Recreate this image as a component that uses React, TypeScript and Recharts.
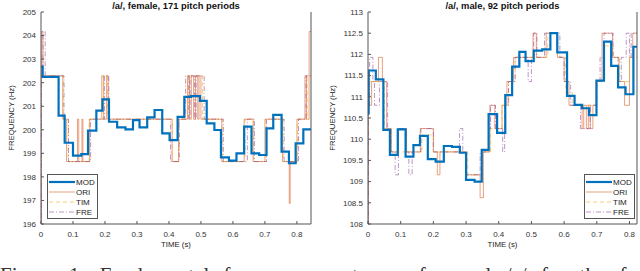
import { LineChart, Line, XAxis, YAxis, Legend } from 'recharts'

const FONT = '"Liberation Sans", Arial, Helvetica, sans-serif'
const AXIS_COLOR = '#555'

const TIME_TICKS = [0, 0.1, 0.2, 0.3, 0.4, 0.5, 0.6, 0.7, 0.8]
const FEMALE_TICKS = [196, 197, 198, 199, 200, 201, 202, 203, 204, 205]
const MALE_TICKS = [108, 108.5, 109, 109.5, 110, 110.5, 111, 111.5, 112, 112.5, 113]
const FEMALE_END = 0.844
const MALE_END = 0.823

// step contours: [start time (s), frequency (Hz)]
type Step = [number, number]

const FEMALE_MOD: Step[] = [
  [0, 202.68], [0.005, 202.25], [0.055, 200.6], [0.074, 199.45], [0.1, 198.9], [0.126, 198.97],
  [0.147, 199.96], [0.173, 200.81], [0.192, 201.29], [0.2125, 200.34], [0.238, 200.1], [0.264, 200.02],
  [0.2875, 200.41], [0.308, 200.1], [0.332, 200.53], [0.355, 200.84], [0.379, 199.85], [0.402, 199.56],
  [0.427, 200.55], [0.448, 201.4], [0.469, 201.43], [0.497, 201.23], [0.518, 200.27], [0.542, 199.99],
  [0.5625, 198.83], [0.5875, 198.69], [0.611, 199.0], [0.635, 200.13], [0.658, 199.0], [0.682, 198.93],
  [0.705, 200.06], [0.726, 200.63], [0.752, 199.07], [0.775, 198.58], [0.796, 199.42], [0.82, 200.02],
]
const FEMALE_ORI: Step[] = [
  [0, 195], [0.001, 204.17], [0.006, 202.29], [0.068, 200.45], [0.08, 198.65], [0.114, 200.45],
  [0.118, 198.65], [0.128, 200.45], [0.131, 198.65], [0.152, 200.45], [0.19, 202.29], [0.196, 200.45],
  [0.205, 202.29], [0.21, 200.45], [0.41, 198.65], [0.43, 200.45], [0.458, 202.29], [0.464, 200.45],
  [0.47, 202.29], [0.477, 200.45], [0.483, 202.29], [0.49, 200.45], [0.494, 202.29], [0.5, 200.45],
  [0.565, 198.65], [0.635, 200.45], [0.663, 198.65], [0.7, 200.45], [0.755, 198.65], [0.776, 196.88],
  [0.779, 198.65], [0.8, 200.45], [0.825, 202.29], [0.83, 200.45], [0.838, 204.17],
]
const FEMALE_TIM: Step[] = [
  [0, 202.29], [0.07, 200.45], [0.085, 198.65], [0.15, 200.45], [0.195, 202.29], [0.208, 200.45],
  [0.41, 198.65], [0.432, 200.45], [0.46, 202.29], [0.505, 200.45], [0.567, 198.65], [0.638, 200.45],
  [0.665, 198.65], [0.703, 200.45], [0.757, 198.65], [0.802, 200.45], [0.832, 202.29],
]
const FEMALE_FRE: Step[] = [
  [0, 195], [0.001, 202.29], [0.006, 204.17], [0.013, 202.29], [0.072, 200.45], [0.086, 198.65],
  [0.155, 200.45], [0.198, 202.29], [0.212, 200.45], [0.405, 198.65], [0.432, 200.45], [0.452, 202.29],
  [0.462, 200.45], [0.466, 202.29], [0.48, 200.45], [0.485, 202.29], [0.51, 200.45], [0.57, 198.65],
  [0.645, 200.45], [0.667, 198.65], [0.705, 200.45], [0.76, 198.65], [0.805, 200.45], [0.828, 202.29],
]

const MALE_MOD: Step[] = [
  [0, 110.61], [0.002, 111.62], [0.024, 111.41], [0.047, 110.22], [0.067, 109.63], [0.091, 110.23],
  [0.115, 109.59], [0.139, 109.86], [0.159, 110.08], [0.183, 109.53], [0.207, 109.47], [0.232, 109.84],
  [0.257, 109.82], [0.281, 109.68], [0.3, 109.04], [0.326, 109.0], [0.348, 109.75], [0.369, 110.59],
  [0.395, 110.15], [0.42, 111.04], [0.441, 111.71], [0.463, 112.06], [0.482, 111.84], [0.507, 112.09],
  [0.533, 112.12], [0.558, 112.5], [0.579, 112.05], [0.609, 111.02], [0.632, 110.81], [0.655, 110.73],
  [0.676, 110.57], [0.699, 111.38], [0.722, 112.3], [0.744, 111.73], [0.765, 111.22], [0.788, 111.06],
  [0.812, 112.18],
]
const MALE_ORI: Step[] = [
  [0, 107.5], [0.001, 110.8], [0.011, 111.36], [0.032, 111.93], [0.044, 111.36], [0.057, 110.25],
  [0.072, 109.7], [0.093, 110.25], [0.118, 109.7], [0.16, 110.25], [0.2, 109.7], [0.212, 109.16],
  [0.22, 109.7], [0.302, 109.16], [0.343, 108.62], [0.353, 109.7], [0.373, 110.8], [0.388, 110.25],
  [0.41, 110.8], [0.425, 111.36], [0.445, 111.93], [0.505, 112.5], [0.515, 111.93], [0.545, 112.5],
  [0.58, 111.93], [0.6, 111.36], [0.615, 110.8], [0.655, 110.25], [0.66, 110.8], [0.668, 110.25],
  [0.674, 110.8], [0.68, 110.25], [0.688, 110.8], [0.698, 111.36], [0.716, 112.5], [0.748, 111.93],
  [0.768, 111.36], [0.785, 110.8], [0.8, 111.93], [0.81, 112.5],
]
const MALE_TIM: Step[] = [
  [0, 111.36], [0.05, 110.25], [0.07, 109.7], [0.165, 110.1], [0.2, 109.7], [0.305, 109.16],
  [0.35, 109.7], [0.375, 110.25], [0.41, 110.8], [0.43, 111.36], [0.45, 111.93], [0.55, 112.5],
  [0.58, 111.93], [0.605, 111.1], [0.625, 110.8], [0.7, 111.36], [0.72, 112.2], [0.75, 111.93],
  [0.77, 111.36], [0.8, 111.93],
]
const MALE_FRE: Step[] = [
  [0, 107.5], [0.001, 110.8], [0.005, 111.93], [0.015, 111.36], [0.02, 110.8], [0.035, 111.36],
  [0.06, 110.25], [0.07, 109.7], [0.083, 109.16], [0.093, 110.25], [0.117, 109.7], [0.125, 109.16],
  [0.135, 109.7], [0.162, 110.25], [0.2, 109.7], [0.28, 110.25], [0.29, 109.7], [0.3, 109.16],
  [0.343, 109.7], [0.37, 110.25], [0.375, 110.8], [0.39, 110.25], [0.412, 109.7], [0.418, 110.8],
  [0.43, 111.36], [0.45, 111.93], [0.49, 111.36], [0.5, 111.93], [0.507, 112.5], [0.517, 111.93],
  [0.54, 112.5], [0.587, 111.93], [0.6, 111.36], [0.62, 110.8], [0.65, 110.25], [0.68, 110.8],
  [0.7, 111.36], [0.71, 111.93], [0.722, 112.5], [0.75, 111.93], [0.765, 111.36], [0.775, 111.93],
  [0.79, 112.5], [0.8, 111.93], [0.805, 112.5],
]

interface SeriesStyle {
  name: string
  color: string
  width: number
  dash?: string
  opacity: number
}

const STYLES: Record<string, SeriesStyle> = {
  MOD: { name: 'MOD', color: '#0072BD', width: 2.2, opacity: 1 },
  ORI: { name: 'ORI', color: '#D95319', width: 1, opacity: 0.55 },
  TIM: { name: 'TIM', color: '#EDB120', width: 1, dash: '4 3', opacity: 0.6 },
  FRE: { name: 'FRE', color: '#7E2F8E', width: 1, dash: '5 2 1 2', opacity: 0.5 },
}
const LEGEND_ORDER = ['MOD', 'ORI', 'TIM', 'FRE']
const DRAW_ORDER = ['ORI', 'TIM', 'FRE', 'MOD']

const toPoints = (steps: Step[], end: number) => {
  const pts = steps.map(([t, f]) => ({ t, f }))
  pts.push({ t: end, f: steps[steps.length - 1][1] })
  return pts
}

function LegendBox() {
  return (
    <div
      style={{
        border: `1px solid ${AXIS_COLOR}`,
        background: '#fff',
        padding: '2px 2px 1px 1px',
        fontFamily: FONT,
        fontSize: 8,
        color: '#222',
        width: 46,
      }}
    >
      {LEGEND_ORDER.map(k => {
        const s = STYLES[k]
        return (
          <div key={k} style={{ display: 'flex', alignItems: 'center', height: 10 }}>
            <svg width={26} height={4} style={{ display: 'block' }}>
              <line
                x1={0} y1={2} x2={26} y2={2}
                stroke={s.color}
                strokeWidth={s.width}
                strokeDasharray={s.dash}
                strokeOpacity={s.opacity}
              />
            </svg>
            <span style={{ marginLeft: 1 }}>{s.name}</span>
          </div>
        )
      })}
    </div>
  )
}

interface PanelProps {
  left: number
  title: string
  end: number
  yDomain: [number, number]
  yTicks: number[]
  series: Record<string, Step[]>
  yAxisWidth: number
  marginRight: number
  legendLeft: number
}

function Panel({ left, title, end, yDomain, yTicks, series, yAxisWidth, marginRight, legendLeft }: PanelProps) {
  const plotCenter = (yAxisWidth + 320 - marginRight) / 2
  const tickStyle = { fontSize: 8, fill: '#333', fontFamily: FONT }
  return (
    <div style={{ position: 'absolute', left, top: 0, width: 320, height: 250 }}>
      <LineChart width={320} height={250} margin={{ top: 12, right: marginRight - 1, bottom: 0, left: 0 }}>
        <XAxis
          dataKey="t"
          type="number"
          domain={[0, end]}
          ticks={TIME_TICKS}
          allowDataOverflow
          height={26}
          tickSize={-3}
          tickMargin={10}
          tick={tickStyle}
          stroke={AXIS_COLOR}
        />
        <XAxis
          xAxisId="top"
          orientation="top"
          type="number"
          domain={[0, end]}
          ticks={TIME_TICKS}
          allowDataOverflow
          height={0}
          tickSize={-3}
          tick={false}
          stroke={AXIS_COLOR}
        />
        <YAxis
          type="number"
          domain={yDomain}
          ticks={yTicks}
          allowDataOverflow
          width={yAxisWidth}
          tickSize={-3}
          tickMargin={8}
          tick={tickStyle}
          stroke={AXIS_COLOR}
        />
        <YAxis
          yAxisId="right"
          orientation="right"
          type="number"
          domain={yDomain}
          ticks={yTicks}
          allowDataOverflow
          width={1}
          tickSize={-3}
          tick={false}
          stroke={AXIS_COLOR}
        />
        {DRAW_ORDER.map(k => {
          const s = STYLES[k]
          return (
            <Line
              key={k}
              data={toPoints(series[k], end)}
              dataKey="f"
              name={k}
              type="stepAfter"
              stroke={s.color}
              strokeWidth={s.width}
              strokeDasharray={s.dash}
              strokeOpacity={s.opacity}
              dot={false}
              activeDot={false}
              isAnimationActive={false}
            />
          )
        })}
        <Legend
          layout="vertical"
          align="center"
          verticalAlign="middle"
          width={50}
          height={45}
          wrapperStyle={{ left: legendLeft, top: 174 }}
          content={() => <LegendBox />}
        />
      </LineChart>
      <div
        style={{
          position: 'absolute', left: plotCenter - 100, width: 200, top: 0,
          textAlign: 'center', fontFamily: FONT, fontWeight: 'bold', fontSize: 9.4, lineHeight: '11px', color: '#111',
        }}
      >
        {title}
      </div>
      <div
        style={{
          position: 'absolute', left: plotCenter - 50, width: 100, top: 240,
          textAlign: 'center', fontFamily: FONT, fontSize: 7.8, lineHeight: '10px', color: '#222',
        }}
      >
        TIME (s)
      </div>
      <div
        style={{
          position: 'absolute', left: (left === 0 ? 12 : 13) - 50, top: 113, width: 100,
          textAlign: 'center', fontFamily: FONT, fontSize: 7.8, lineHeight: '10px', color: '#222',
          transform: 'rotate(-90deg)',
        }}
      >
        FREQUENCY (Hz)
      </div>
    </div>
  )
}

export default function App() {
  return (
    <div
      style={{
        position: 'absolute', left: 0, top: 0, width: 640, height: 271,
        overflow: 'hidden', background: '#fff',
      }}
    >
      <Panel
        left={0}
        title="/a/, female, 171 pitch periods"
        end={FEMALE_END}
        yDomain={[196, 205]}
        yTicks={FEMALE_TICKS}
        series={{ MOD: FEMALE_MOD, ORI: FEMALE_ORI, TIM: FEMALE_TIM, FRE: FEMALE_FRE }}
        yAxisWidth={41}
        marginRight={9}
        legendLeft={47}
      />
      <Panel
        left={320}
        title="/a/, male, 92 pitch periods"
        end={MALE_END}
        yDomain={[108, 113]}
        yTicks={MALE_TICKS}
        series={{ MOD: MALE_MOD, ORI: MALE_ORI, TIM: MALE_TIM, FRE: MALE_FRE }}
        yAxisWidth={48}
        marginRight={3}
        legendLeft={264}
      />
      <div
        style={{
          position: 'absolute', left: 0, top: 265, whiteSpace: 'nowrap',
          fontFamily: '"Liberation Serif", "Times New Roman", serif', fontSize: 21, lineHeight: '21px',
          wordSpacing: 9, color: '#333',
        }}
      >
        Figure 1: Fundamental frequency contours of vowel /a/ for the female and male speakers
      </div>
    </div>
  )
}
